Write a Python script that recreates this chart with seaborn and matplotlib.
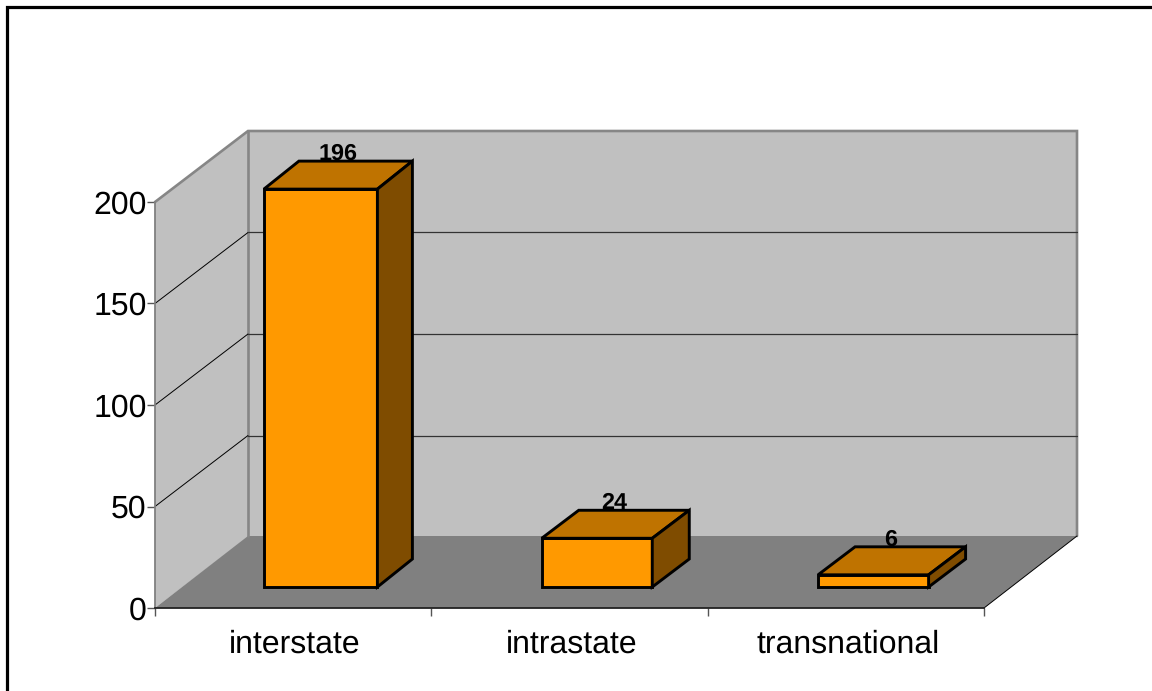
import matplotlib
matplotlib.use("Agg")
import matplotlib.pyplot as plt
from matplotlib.patches import Polygon, Rectangle
from matplotlib.transforms import ScaledTranslation
import seaborn as sns

categories = ["interstate", "intrastate", "transnational"]
values = [196, 24, 6]
yticks = [0, 50, 100, 150, 200]

W, H = 1152, 691
# front plane of the fake 3d box, in pixels
LEFT, RIGHT, BASE, TOP = 155, 984, 608, 202
PX_X = (RIGHT - LEFT) / 3
PX_Y = (BASE - TOP) / 200

# depth offsets, pixels -> data units
wall_dx, wall_dy = 93 / PX_X, 71 / PX_Y
floor_dy = 72 / PX_Y
bar_dx, bar_dy = 27.5 / PX_X, 21 / PX_Y
side_dx, side_dy = 37 / PX_X, 28 / PX_Y

FACE = "#FF9900"
ROOF = "#BF7300"
SIDE = "#7F4C00"
WALL = "#C0C0C0"
FLOOR = "#808080"

sns.set_style("white")
plt.rcParams["font.family"] = ["Liberation Sans", "DejaVu Sans"]
plt.rcParams["text.hinting"] = "none"

fig = plt.figure(figsize=(W / 100, H / 100), dpi=100)
ax = fig.add_axes([LEFT / W, 1 - BASE / H, (RIGHT - LEFT) / W, (BASE - TOP) / H])
ax.patch.set_visible(False)

sns.barplot(x=categories, y=values, color=FACE, saturation=1, width=0.4,
            edgecolor="black", linewidth=2.1, ax=ax, zorder=4)
ax.set_xlim(-0.5, 2.5)
ax.set_ylim(0, yticks[-1])


def poly(pts, face, edge="none", lw=0, z=1):
    ax.add_patch(Polygon(pts, closed=True, facecolor=face, edgecolor=edge,
                         linewidth=lw, zorder=z, clip_on=False, joinstyle="miter"))


x0, x1 = -0.5, 2.5
ymax = yticks[-1]

# walls and floor
poly([(x0, 0), (x0 + wall_dx, floor_dy), (x1 + wall_dx, floor_dy), (x1, 0)], FLOOR, z=1.2)
poly([(x0, 0), (x0, ymax), (x0 + wall_dx, ymax + wall_dy), (x0 + wall_dx, wall_dy)], WALL, z=1)
poly([(x0 + wall_dx, wall_dy), (x0 + wall_dx, ymax + wall_dy),
      (x1 + wall_dx, ymax + wall_dy), (x1 + wall_dx, wall_dy)], WALL, z=1)

# gray border round the walls
ax.plot([x0, x0 + wall_dx, x1 + wall_dx, x1 + wall_dx], [ymax, ymax + wall_dy, ymax + wall_dy, floor_dy],
        color="#868686", lw=1.9, clip_on=False, zorder=1.5, solid_joinstyle="miter")
ax.plot([x0 + wall_dx, x0 + wall_dx], [floor_dy, ymax + wall_dy], color="#868686", lw=1.9,
        clip_on=False, zorder=1.5)

# gridlines, side wall then back wall
for t in yticks[1:-1]:
    ax.plot([x0, x0 + wall_dx], [t, t + wall_dy], color="black", lw=0.7, clip_on=False, zorder=1.6)
    ax.plot([x0 + wall_dx, x1 + wall_dx], [t + wall_dy, t + wall_dy], color="#333333", lw=0.9,
            clip_on=False, zorder=1.6)
ax.plot([x1, x1 + wall_dx], [0, floor_dy], color="black", lw=0.7, clip_on=False, zorder=1.6)

# move the seaborn bars back onto the floor and add roof + side face
for i, (bar, val) in enumerate(zip(ax.patches[:len(values)], values)):
    bar.set_x(bar.get_x() + bar_dx)
    bar.set_y(bar_dy)
    bar.set_clip_on(False)
    bar.set_joinstyle("miter")
    sd = side_dx
    if i == 0:
        # first one is a little wider and shallower in the original
        bar.set_x(bar.get_x() - 1.5 / PX_X)
        bar.set_width(113.5 / PX_X)
        sd = 35 / PX_X
    l = bar.get_x()
    r = l + bar.get_width()
    b = bar_dy
    t = b + val
    poly([(l, t), (l + sd, t + side_dy), (r + sd, t + side_dy), (r, t)],
         ROOF, "black", 2.1, 4)
    poly([(r, b), (r, t), (r + sd, t + side_dy), (r + sd, b + side_dy)],
         SIDE, "black", 2.1, 4)
    ax.annotate(str(val), xy=(i + bar_dx + side_dx / 2, t + side_dy), xytext=(-1.1, 0.7),
                textcoords="offset points", ha="center", va="baseline",
                fontsize=16.8, fontweight="bold", color="black",
                annotation_clip=False, zorder=3)

# axes
ax.set_yticks(yticks)
ax.set_xticks(range(len(categories)))
ax.set_xticklabels(categories)
ax.set_xticks([-0.5, 0.5, 1.5, 2.5], minor=True)
ax.tick_params(axis="x", which="major", length=0, pad=15.5, labelsize=23, colors="black")
ax.tick_params(axis="x", which="minor", length=6, width=1, color="#555555", bottom=True)
ax.tick_params(axis="y", length=6, width=1, color="#555555", labelsize=23, pad=0,
               labelcolor="black", left=True)
ax.set_xlabel("")
ax.set_ylabel("")

# category labels sit a touch right of the tick centre
nudge = ScaledTranslation(2 / 100, 0, fig.dpi_scale_trans)
for lab in ax.get_xticklabels():
    lab.set_transform(lab.get_transform() + nudge)

for s in ["top", "right"]:
    ax.spines[s].set_visible(False)
ax.spines["left"].set_color("#808080")
ax.spines["left"].set_linewidth(1.3)
ax.spines["left"].set_zorder(2)
ax.spines["bottom"].set_color("#222222")
ax.spines["bottom"].set_linewidth(1.3)
ax.spines["bottom"].set_zorder(2)

# outer chart frame, runs off the right and bottom edges
fig.add_artist(Rectangle((6.5 / W, -0.05), 1.1, 1.05 - 6.5 / H, transform=fig.transFigure,
                         facecolor="none", edgecolor="black", linewidth=2.3))

fig.savefig("out.png", dpi=100)
